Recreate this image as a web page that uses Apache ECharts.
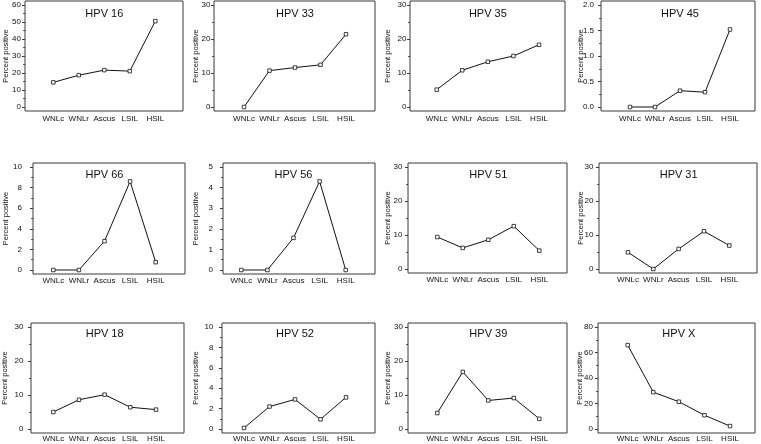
<!DOCTYPE html>
<html>
<head>
<meta charset="utf-8">
<script src="https://cdn.jsdelivr.net/npm/echarts@6/dist/echarts.min.js"></script>
<style>
html,body{margin:0;padding:0;background:#fff;}
#c{width:761px;height:444px;}
</style>
</head>
<body>
<div id="c"></div>
<script>
// ---- data ----
const categories = ['WNLc', 'WNLr', 'Ascus', 'LSIL', 'HSIL'];
const titles = ['HPV 16', 'HPV 33', 'HPV 35', 'HPV 45', 'HPV 66', 'HPV 56', 'HPV 51', 'HPV 31', 'HPV 18', 'HPV 52', 'HPV 39', 'HPV X'];
const hpv16 = [14.5, 18.7, 21.7, 21.1, 50.5];
const hpv33 = [0, 10.7, 11.6, 12.4, 21.4];
const hpv35 = [5.1, 10.8, 13.3, 15.0, 18.3];
const hpv45 = [0, 0, 0.32, 0.29, 1.52];
const hpv66 = [0, 0, 2.8, 8.6, 0.76];
const hpv56 = [0, 0, 1.56, 4.3, 0];
const hpv51 = [9.4, 6.2, 8.6, 12.6, 5.4];
const hpv31 = [4.9, 0, 5.9, 11.1, 6.9];
const hpv18 = [5.0, 8.6, 10.1, 6.4, 5.7];
const hpv52 = [0.1, 2.2, 2.9, 0.95, 3.1];
const hpv39 = [4.7, 16.8, 8.4, 9.1, 3.0];
const hpvX = [65.8, 28.9, 21.4, 10.8, 2.3];
const ticks60 = ['0', '10', '20', '30', '40', '50', '60'];
const ticks30 = ['0', '10', '20', '30'];
const ticks2 = ['0.0', '0.5', '1.0', '1.5', '2.0'];
const ticks10 = ['0', '2', '4', '6', '8', '10'];
const ticks5 = ['0', '1', '2', '3', '4', '5'];
const ticks80 = ['0', '20', '40', '60', '80'];
const yName = 'Percent positive';

const seriesValues = [hpv16, hpv33, hpv35, hpv45, hpv66, hpv56, hpv51, hpv31, hpv18, hpv52, hpv39, hpvX];
const tickLabels = [ticks60, ticks30, ticks30, ticks2, ticks10, ticks5, ticks30, ticks30, ticks30, ticks10, ticks30, ticks80];

// ---- layout (pixels) ----
const layouts = [
  {l:25,  r:183, t:1,   b:111, x0:53.3,  x4:155.3, lm:4,   ng:15.5, xm:4,   ty:8},
  {l:214, r:375, t:1,   b:111, x0:244,   x4:346,   lm:3.5, ng:14.5, xm:4,   ty:8},
  {l:410, r:565, t:1,   b:111, x0:436.7, x4:539,   lm:3.5, ng:18.5, xm:4,   ty:8},
  {l:601, r:755, t:1,   b:111, x0:630,   x4:730,   lm:7,   ng:16.5, xm:4,   ty:8},
  {l:33,  r:185, t:163, b:274, x0:53.3,  x4:155.7, lm:11,  ng:23.5, xm:2.5, ty:169},
  {l:223, r:375, t:163, b:274, x0:241.3, x4:345.7, lm:10,  ng:23.5, xm:2.5, ty:169},
  {l:408, r:567, t:163, b:273, x0:437.3, x4:539.3, lm:5.5, ng:16.5, xm:2.5, ty:169},
  {l:599, r:757, t:163, b:273, x0:628,   x4:729.3, lm:5.5, ng:14.5, xm:2.5, ty:169},
  {l:31,  r:184, t:323, b:433, x0:53.3,  x4:156,   lm:7.5, ng:22.5, xm:2,   ty:328.5},
  {l:222, r:375, t:323, b:433, x0:244,   x4:346,   lm:8.5, ng:22.5, xm:2,   ty:328.5},
  {l:408, r:567, t:323, b:433, x0:437.3, x4:539.3, lm:5,   ng:16.5, xm:2,   ty:328.5},
  {l:598, r:755, t:323, b:433, x0:627.7, x4:730,   lm:5,   ng:14.5, xm:2,   ty:328.5}
];

const FONT = 'Liberation Sans, Arial, Helvetica, sans-serif';
const grids = [], xAxes = [], yAxes = [], series = [], titleList = [];

layouts.forEach((L, i) => {
  const w = L.r - L.l, h = L.b - L.t;
  const step = (L.x4 - L.x0) / 4;
  const xmin = -(L.x0 - L.l) / step;
  const xmax = 4 + (L.r - L.x4) / step;
  const tv = tickLabels[i].map(Number);
  const tmax = tv[tv.length - 1];
  const pad = 4 / (h - 8);
  const minor = [];
  for (let k = 0; k < tv.length - 1; k++) minor.push((tv[k] + tv[k + 1]) / 2);
  const labelMap = {};
  tickLabels[i].forEach(s => { labelMap[Number(s)] = s; });

  grids.push({
    left: L.l, top: L.t, width: w, height: h,
    show: true, borderColor: '#3a3a3a', borderWidth: 1,
    backgroundColor: 'transparent', containLabel: false, outerBoundsMode: 'none'
  });
  xAxes.push({
    type: 'value', gridIndex: i, min: xmin, max: xmax, position: 'bottom',
    splitLine: {show: false}, axisLine: {show: false, onZero: false}, axisTick: {show: false},
    axisLabel: {
      customValues: [0, 1, 2, 3, 4],
      formatter: v => categories[Math.round(v)],
      fontSize: 8, fontFamily: FONT, color: '#111', margin: L.xm
    }
  });
  yAxes.push({
    type: 'value', gridIndex: i, min: -tmax * pad, max: tmax * (1 + pad), position: 'left',
    splitLine: {show: false}, axisLine: {show: false, onZero: false},
    axisTick: {show: true, inside: false, length: 3, customValues: tv, lineStyle: {color: '#3a3a3a', width: 1}},
    axisLabel: {
      customValues: tv,
      formatter: v => labelMap[v] !== undefined ? labelMap[v] : String(v),
      fontSize: 8, fontFamily: FONT, color: '#111', margin: L.lm
    },
    name: yName, nameLocation: 'middle', nameRotate: 90, nameGap: L.ng,
    nameMoveOverlap: false,
    nameTextStyle: {fontSize: 7.5, fontFamily: FONT, color: '#111'}
  });
  yAxes.push({
    type: 'value', gridIndex: i, min: -tmax * pad, max: tmax * (1 + pad),
    position: 'left', offset: 0,
    splitLine: {show: false}, axisLine: {show: false, onZero: false}, axisLabel: {show: false},
    axisTick: {show: true, inside: false, length: 1.8, customValues: minor, lineStyle: {color: '#3a3a3a', width: 1}}
  });
  series.push({
    type: 'line', xAxisIndex: i, yAxisIndex: 2 * i,
    data: seriesValues[i].map((v, k) => [k, v]),
    symbol: 'rect', symbolSize: 3.5, showSymbol: true,
    itemStyle: {color: '#fff', borderColor: '#111', borderWidth: 0.8},
    lineStyle: {color: '#111', width: 1},
    emphasis: {disabled: true}, silent: true, animation: false
  });
  titleList.push({
    text: titles[i], left: (L.x0 + L.x4) / 2, top: L.ty, textAlign: 'center', padding: 0,
    textStyle: {fontSize: 11, fontWeight: 'normal', fontFamily: FONT, color: '#111'}
  });
});

const chart = echarts.init(document.getElementById('c'), null, {renderer: 'canvas'});
chart.setOption({
  animation: false,
  backgroundColor: '#fff',
  title: titleList,
  grid: grids,
  xAxis: xAxes,
  yAxis: yAxes,
  series: series
});
</script>
</body>
</html>
